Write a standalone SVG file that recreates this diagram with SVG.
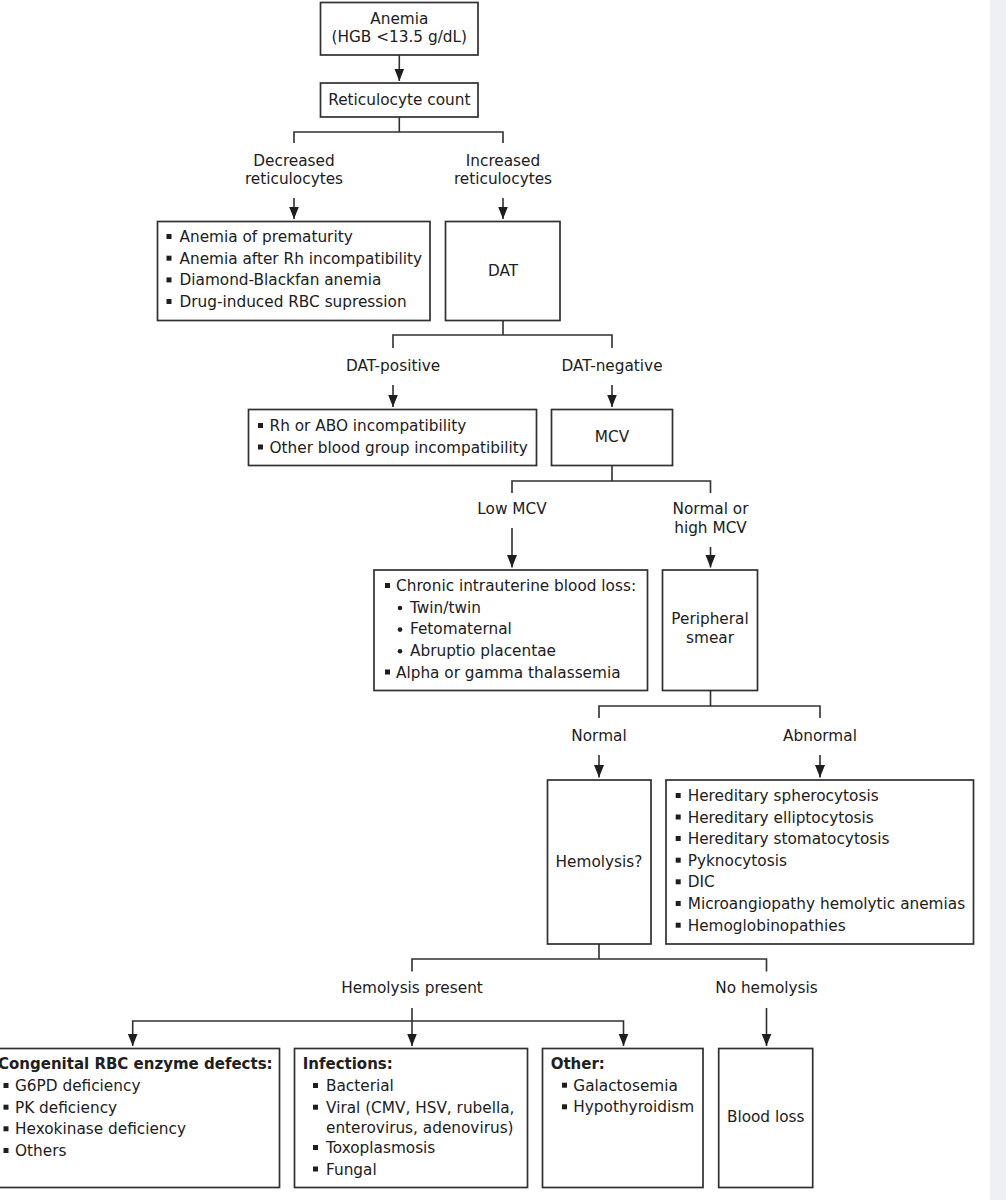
<svg xmlns="http://www.w3.org/2000/svg" width="1006" height="1200" viewBox="0 0 1006 1200">
<style>
.t{font-family:"DejaVu Sans",Verdana,"Liberation Sans",sans-serif;font-size:15.3px;fill:#202020}
.c{text-anchor:middle}
.b{font-weight:bold;font-size:15px}
.box{fill:#fff;stroke:#303030;stroke-width:1.7}
.ln{fill:none;stroke:#303030;stroke-width:1.6}
.bul{fill:#1e1e1e}
</style>
<defs>
<marker id="ah" markerUnits="userSpaceOnUse" markerWidth="13" markerHeight="11" viewBox="0 0 13 11" refX="12.5" refY="5.5" orient="auto">
<path d="M0,0.5 L12.5,5.5 L0,10.5 Z" fill="#1e1e1e"/>
</marker>
<rect id="sq" width="5" height="5" class="bul"/>
</defs>
<rect x="990" y="0" width="16" height="1200" fill="#eff0f3"/>

<g id="connectors">
<path class="ln" d="M399.3,55 V81" marker-end="url(#ah)"/>
<path class="ln" d="M399.3,117 V132 M294,143 V132 H503 V143"/>
<path class="ln" d="M294,198 V219" marker-end="url(#ah)"/>
<path class="ln" d="M503,198 V219" marker-end="url(#ah)"/>
<path class="ln" d="M503,320.7 V335 M393,348 V335 H612 V348"/>
<path class="ln" d="M393,385 V407" marker-end="url(#ah)"/>
<path class="ln" d="M612,385 V407" marker-end="url(#ah)"/>
<path class="ln" d="M612,465.5 V481 M512,493 V481 H710.5 V493"/>
<path class="ln" d="M512,528 V567.5" marker-end="url(#ah)"/>
<path class="ln" d="M710.5,547 V567.5" marker-end="url(#ah)"/>
<path class="ln" d="M710.5,690.5 V706 M599,718 V706 H820 V718"/>
<path class="ln" d="M599,755 V777.5" marker-end="url(#ah)"/>
<path class="ln" d="M820,755 V777.5" marker-end="url(#ah)"/>
<path class="ln" d="M599,944 V959 M412,971.5 V959 H766.5 V971.5"/>
<path class="ln" d="M412,1008 V1046" marker-end="url(#ah)"/>
<path class="ln" d="M412,1021 H132.7 V1046" marker-end="url(#ah)"/>
<path class="ln" d="M412,1021 H623.5 V1046" marker-end="url(#ah)"/>
<path class="ln" d="M766.5,1008 V1046" marker-end="url(#ah)"/>
</g>

<g id="anemia">
<rect class="box" x="320.5" y="2.5" width="157.5" height="52.5"/>
<text class="t c" x="399.3" y="23.5">Anemia</text>
<text class="t c" x="399.3" y="42">(HGB &lt;13.5 g/dL)</text>
</g>

<g id="retic">
<rect class="box" x="320.5" y="83" width="157.5" height="34"/>
<text class="t c" x="399.3" y="104.5">Reticulocyte count</text>
</g>

<g id="lbl-decreased">
<text class="t c" x="294" y="166">Decreased</text>
<text class="t c" x="294" y="184">reticulocytes</text>
</g>
<g id="lbl-increased">
<text class="t c" x="503" y="166">Increased</text>
<text class="t c" x="503" y="184">reticulocytes</text>
</g>

<g id="decreased-causes">
<rect class="box" x="157.5" y="221.5" width="272.5" height="99"/>
<use href="#sq" x="166.5" y="234"/><text class="t" x="179.5" y="242">Anemia of prematurity</text>
<use href="#sq" x="166.5" y="255.7"/><text class="t" x="179.5" y="263.7">Anemia after Rh incompatibility</text>
<use href="#sq" x="166.5" y="277.4"/><text class="t" x="179.5" y="285.4">Diamond-Blackfan anemia</text>
<use href="#sq" x="166.5" y="299"/><text class="t" x="179.5" y="307">Drug-induced RBC supression</text>
</g>

<g id="dat">
<rect class="box" x="445.5" y="221.5" width="114.5" height="99"/>
<text class="t c" x="503" y="275.5">DAT</text>
</g>

<g id="lbl-datpos"><text class="t c" x="393" y="370.7">DAT-positive</text></g>
<g id="lbl-datneg"><text class="t c" x="612" y="370.7">DAT-negative</text></g>

<g id="datpos-causes">
<rect class="box" x="248.5" y="409.5" width="288" height="56"/>
<use href="#sq" x="258" y="423"/><text class="t" x="269.5" y="431">Rh or ABO incompatibility</text>
<use href="#sq" x="258" y="444.5"/><text class="t" x="269.5" y="452.5">Other blood group incompatibility</text>
</g>

<g id="mcv">
<rect class="box" x="551.5" y="409.5" width="121" height="56"/>
<text class="t c" x="612" y="442">MCV</text>
</g>

<g id="lbl-lowmcv"><text class="t c" x="512" y="514">Low MCV</text></g>
<g id="lbl-highmcv">
<text class="t c" x="710.5" y="514">Normal or</text>
<text class="t c" x="710.5" y="532.7">high MCV</text>
</g>

<g id="lowmcv-causes">
<rect class="box" x="374" y="570" width="273.5" height="120.5"/>
<use href="#sq" x="385" y="583"/><text class="t" x="396" y="591">Chronic intrauterine blood loss:</text>
<circle class="bul" cx="400" cy="608" r="2.3"/><text class="t" x="410" y="612.7">Twin/twin</text>
<circle class="bul" cx="400" cy="629.6" r="2.3"/><text class="t" x="410" y="634.3">Fetomaternal</text>
<circle class="bul" cx="400" cy="651.3" r="2.3"/><text class="t" x="410" y="656">Abruptio placentae</text>
<use href="#sq" x="385" y="669.5"/><text class="t" x="396" y="677.5">Alpha or gamma thalassemia</text>
</g>

<g id="smear">
<rect class="box" x="662.5" y="570" width="95" height="120.5"/>
<text class="t c" x="710" y="624.3">Peripheral</text>
<text class="t c" x="710" y="642.7">smear</text>
</g>

<g id="lbl-normal"><text class="t c" x="599" y="740.7">Normal</text></g>
<g id="lbl-abnormal"><text class="t c" x="820" y="740.7">Abnormal</text></g>

<g id="hemolysis">
<rect class="box" x="547.5" y="780" width="103.5" height="164"/>
<text class="t c" x="599" y="866.7">Hemolysis?</text>
</g>

<g id="abnormal-causes">
<rect class="box" x="666" y="780" width="307.5" height="164"/>
<use href="#sq" x="675.7" y="793"/><text class="t" x="687.7" y="801">Hereditary spherocytosis</text>
<use href="#sq" x="675.7" y="814.5"/><text class="t" x="687.7" y="822.5">Hereditary elliptocytosis</text>
<use href="#sq" x="675.7" y="836"/><text class="t" x="687.7" y="844">Hereditary stomatocytosis</text>
<use href="#sq" x="675.7" y="857.7"/><text class="t" x="687.7" y="865.7">Pyknocytosis</text>
<use href="#sq" x="675.7" y="879.3"/><text class="t" x="687.7" y="887.3">DIC</text>
<use href="#sq" x="675.7" y="901"/><text class="t" x="687.7" y="909">Microangiopathy hemolytic anemias</text>
<use href="#sq" x="675.7" y="922.7"/><text class="t" x="687.7" y="930.7">Hemoglobinopathies</text>
</g>

<g id="lbl-hempresent"><text class="t c" x="412" y="993">Hemolysis present</text></g>
<g id="lbl-nohem"><text class="t c" x="766.5" y="993">No hemolysis</text></g>

<g id="congenital">
<rect class="box" x="-10" y="1048.5" width="289.5" height="139"/>
<text class="t b" x="-2" y="1069.3">Congenital RBC enzyme defects:</text>
<use href="#sq" x="3.5" y="1083"/><text class="t" x="15" y="1091">G6PD deficiency</text>
<use href="#sq" x="3.5" y="1104.7"/><text class="t" x="15" y="1112.7">PK deficiency</text>
<use href="#sq" x="3.5" y="1126.3"/><text class="t" x="15" y="1134.3">Hexokinase deficiency</text>
<use href="#sq" x="3.5" y="1148"/><text class="t" x="15" y="1156">Others</text>
</g>

<g id="infections">
<rect class="box" x="294.5" y="1048.5" width="233" height="139"/>
<text class="t b" x="302.7" y="1069.3">Infections:</text>
<use href="#sq" x="313" y="1083"/><text class="t" x="326" y="1091">Bacterial</text>
<use href="#sq" x="313" y="1104.7"/><text class="t" x="326" y="1112.7">Viral (CMV, HSV, rubella,</text>
<text class="t" x="326" y="1132.5">enterovirus, adenovirus)</text>
<use href="#sq" x="313" y="1145"/><text class="t" x="326" y="1153">Toxoplasmosis</text>
<use href="#sq" x="313" y="1166.5"/><text class="t" x="326" y="1174.5">Fungal</text>
</g>

<g id="other">
<rect class="box" x="542.5" y="1048.5" width="160.5" height="139"/>
<text class="t b" x="550.7" y="1069.3">Other:</text>
<use href="#sq" x="562" y="1082.7"/><text class="t" x="573.3" y="1090.7">Galactosemia</text>
<use href="#sq" x="562" y="1104.3"/><text class="t" x="573.3" y="1112.3">Hypothyroidism</text>
</g>

<g id="bloodloss">
<rect class="box" x="718.7" y="1048.5" width="94" height="139"/>
<text class="t c" x="765.7" y="1121.7">Blood loss</text>
</g>
</svg>
